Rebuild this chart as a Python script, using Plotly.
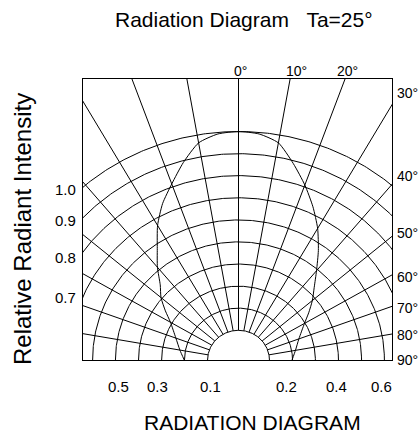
import numpy as np
import plotly.graph_objects as go

# ---------------- data ----------------
lobe_angles = [-90, -80, -70, -60, -55, -50, -45, -40, -35, -30, -25, -20, -15, -10, -5,
               0, 5, 10, 15, 20, 25, 30, 35, 40, 45, 50, 55, 60, 70, 80, 90]
lobe_intensity = [0.228, 0.25, 0.28, 0.33, 0.375, 0.425, 0.465, 0.53, 0.595, 0.68, 0.755, 0.82, 0.895, 0.965, 0.993,
                  1.0, 0.993, 0.965, 0.89, 0.815, 0.74, 0.665, 0.585, 0.51, 0.45, 0.405, 0.36, 0.32, 0.27, 0.243, 0.225]

left_tick_labels = ["1.0", "0.9", "0.8", "0.7"]
bottom_tick_labels = ["0.5", "0.3", "0.1", "0.2", "0.4", "0.6"]
top_angle_labels = ["0°", "10°", "20°"]
right_angle_labels = ["30°", "40°", "50°", "60°", "70°", "80°", "90°"]

grid_angles = list(range(-80, 81, 10))
ring_radii = [0.13, 0.227, 0.323, 0.42, 0.517, 0.613, 0.71, 0.807, 0.903, 1.0]

# ---------------- layout geometry (pixels) ----------------
W, H = 419, 434
L, R, T, B = 83, 392, 79, 360   # plot box


def pxx(x):
    return (x - L) / (R - L)


def pxy(y):
    return (B - y) / (B - T)


FONT = "Liberation Sans, Arial, sans-serif"

# grid rings
rx, ry = [], []
t = np.radians(np.linspace(-90, 90, 361))
for r in ring_radii:
    rx += list(r * np.sin(t)) + [None]
    ry += list(r * np.cos(t)) + [None]

# radial lines
lx, ly = [], []
for a in grid_angles:
    th = np.radians(a)
    lx += [ring_radii[0] * np.sin(th), 3 * np.sin(th), None]
    ly += [ring_radii[0] * np.cos(th), 3 * np.cos(th), None]

th = np.radians(lobe_angles)
lobe_x = np.array(lobe_intensity) * np.sin(th)
lobe_y = np.array(lobe_intensity) * np.cos(th)

fig = go.Figure()
fig.add_trace(go.Scatter(x=rx, y=ry, mode="lines", line=dict(color="black", width=1),
                         hoverinfo="skip", showlegend=False))
fig.add_trace(go.Scatter(x=lx, y=ly, mode="lines", line=dict(color="black", width=1),
                         hoverinfo="skip", showlegend=False))
fig.add_trace(go.Scatter(x=lobe_x, y=lobe_y, mode="lines",
                         line=dict(color="black", width=1, shape="spline", smoothing=0.6),
                         showlegend=False))

xr = [-(238.5 - L) / 238.0, (R - 238.5) / 238.0]
yr = [0, (B - T) / (238.0 * 0.96)]

ann = []
ann.append(dict(text="Radiation Diagram&nbsp;&nbsp;&nbsp;Ta=25°", x=pxx(244), y=pxy(19), font=dict(size=21)))
ann.append(dict(text="Relative Radiant Intensity", x=pxx(22), y=pxy(229), textangle=-90, font=dict(size=24)))
ann.append(dict(text="RADIATION DIAGRAM", x=pxx(252), y=pxy(422), font=dict(size=21)))
for lab, y in zip(left_tick_labels, [189, 220, 257, 297]):
    ann.append(dict(text=lab, x=pxx(78), y=pxy(y), xanchor="right", font=dict(size=15)))
for lab, x in zip(bottom_tick_labels, [118, 157, 210, 286, 336, 381]):
    ann.append(dict(text=lab, x=pxx(x), y=pxy(386), font=dict(size=15)))
for lab, x in zip(top_angle_labels, [240, 296, 347]):
    ann.append(dict(text=lab, x=pxx(x), y=pxy(71), font=dict(size=14)))
for lab, y in zip(right_angle_labels, [93, 176, 233, 277, 308, 335, 360]):
    ann.append(dict(text=lab, x=pxx(395), y=pxy(y), xanchor="left", font=dict(size=14)))
for a in ann:
    a.update(xref="paper", yref="paper", showarrow=False)
    a.setdefault("xanchor", "center")
    a["yanchor"] = "middle"

fig.update_layout(
    width=W, height=H,
    margin=dict(l=L, r=W - R, t=T, b=H - B, pad=0),
    paper_bgcolor="white", plot_bgcolor="white",
    font=dict(family=FONT, color="black"),
    annotations=ann,
    xaxis=dict(range=xr, showgrid=False, zeroline=False, showticklabels=False, ticks="",
               showline=True, mirror=True, linecolor="black", linewidth=1, fixedrange=True),
    yaxis=dict(range=yr, showgrid=False, zeroline=False, showticklabels=False, ticks="",
               showline=True, mirror=True, linecolor="black", linewidth=1, fixedrange=True),
)

fig.write_html(
    "out.html",
    config={"displayModeBar": False},
    post_script="document.body.style.margin='0';document.body.style.overflow='hidden';",
)
